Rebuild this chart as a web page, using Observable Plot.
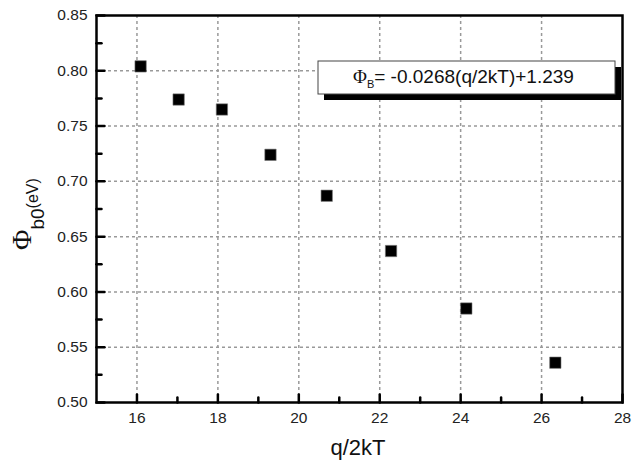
<!DOCTYPE html>
<html>
<head>
<meta charset="utf-8">
<script src="https://cdn.jsdelivr.net/npm/d3@7"></script>
<script src="https://cdn.jsdelivr.net/npm/@observablehq/plot@0.6"></script>
<style>
  html, body { margin: 0; padding: 0; background: #fff; }
  #chart svg { display: block; }
</style>
</head>
<body>
<div id="chart"></div>
<script>
// Data
const qOver2kT = [16.09, 17.03, 18.10, 19.30, 20.69, 22.28, 24.14, 26.34];
const phiB0    = [0.804, 0.774, 0.765, 0.724, 0.687, 0.637, 0.585, 0.536];

// Tick values
const xTicks = [16, 18, 20, 22, 24, 26, 28];
const xMinor = [17, 19, 21, 23, 25, 27];
const yTicks = [0.50, 0.55, 0.60, 0.65, 0.70, 0.75, 0.80, 0.85];
const yMinor = [0.525, 0.575, 0.625, 0.675, 0.725, 0.775, 0.825];
const xGrid = [16, 18, 20, 22, 24, 26];
const yGrid = [0.55, 0.60, 0.65, 0.70, 0.75, 0.80];

const fitText = "= -0.0268(q/2kT)+1.239";

const data = qOver2kT.map((x, i) => ({x, y: phiB0[i]}));

const tickShape = {draw(context, l) { context.moveTo(0, 0); context.lineTo(0, -l); }};
const FONT = "Liberation Sans, Arial, sans-serif";

const plot = Plot.plot({
  width: 643,
  height: 462,
  marginLeft: 96,
  marginRight: 21,
  marginTop: 15,
  marginBottom: 60,
  style: {fontFamily: FONT, background: "#fff"},
  x: {domain: [15, 28], axis: null},
  y: {domain: [0.5, 0.85], axis: null},
  marks: [
    Plot.ruleX(xGrid, {stroke: "#999", strokeWidth: 1.5, strokeDasharray: "3 3"}),
    Plot.ruleY(yGrid, {stroke: "#999", strokeWidth: 1.5, strokeDasharray: "3 3"}),
    Plot.vector(xTicks, {x: d => d, y: 0.5, length: 8, rotate: 0, anchor: "start", shape: tickShape, stroke: "#000", strokeWidth: 2.5}),
    Plot.vector(xMinor, {x: d => d, y: 0.5, length: 5, rotate: 0, anchor: "start", shape: tickShape, stroke: "#000", strokeWidth: 2.5}),
    Plot.vector(yTicks, {x: 15, y: d => d, length: 8, rotate: 90, anchor: "start", shape: tickShape, stroke: "#000", strokeWidth: 2.5}),
    Plot.vector(yMinor, {x: 15, y: d => d, length: 5, rotate: 90, anchor: "start", shape: tickShape, stroke: "#000", strokeWidth: 2.5}),
    Plot.frame({stroke: "#000", strokeWidth: 2.5}),
    Plot.text(xTicks, {x: d => d, y: 0.5, dy: 16, text: d => String(d), fontSize: 15.5, fill: "#222"}),
    Plot.text(yTicks, {x: 15, y: d => d, dx: -9, textAnchor: "end", text: d => d.toFixed(2), fontSize: 15.5, fill: "#222"}),
    Plot.dot(data, {x: "x", y: "y", symbol: "square", r: 6.4, fill: "#000", stroke: "#777", strokeWidth: 0.6})
  ]
});

const svg = d3.select(plot);

// Legend box with shadow
const lg = svg.append("g");
lg.append("rect").attr("x", 324).attr("y", 67).attr("width", 297).attr("height", 33).attr("fill", "#000");
lg.append("rect").attr("x", 318).attr("y", 61).attr("width", 297).attr("height", 33)
  .attr("fill", "#fff").attr("stroke", "#444").attr("stroke-width", 1);
const lt = lg.append("text").attr("x", 353).attr("y", 83).attr("text-anchor", "start")
  .attr("font-family", FONT).attr("fill", "#111");
lt.append("tspan").attr("font-size", 19).attr("font-family", "Liberation Serif, serif").text("Φ");
lt.append("tspan").attr("font-size", 11).attr("dy", 5).text("B");
lt.append("tspan").attr("font-size", 19).attr("dy", -5).text(fitText);

// Axis titles
svg.append("text").attr("x", 358).attr("y", 455).attr("text-anchor", "middle")
  .attr("font-family", FONT).attr("font-size", 22).attr("fill", "#111").text("q/2kT");

const yl = svg.append("text").attr("transform", "translate(31,250) rotate(-90)")
  .attr("text-anchor", "start").attr("font-family", FONT).attr("fill", "#111");
yl.append("tspan").attr("font-size", 28).attr("font-family", "Liberation Serif, serif").text("Φ");
yl.append("tspan").attr("font-size", 19).attr("dy", 13).text("b0");
yl.append("tspan").attr("font-size", 16).attr("dy", -6).text("(eV)");

document.getElementById("chart").appendChild(plot);
</script>
</body>
</html>
